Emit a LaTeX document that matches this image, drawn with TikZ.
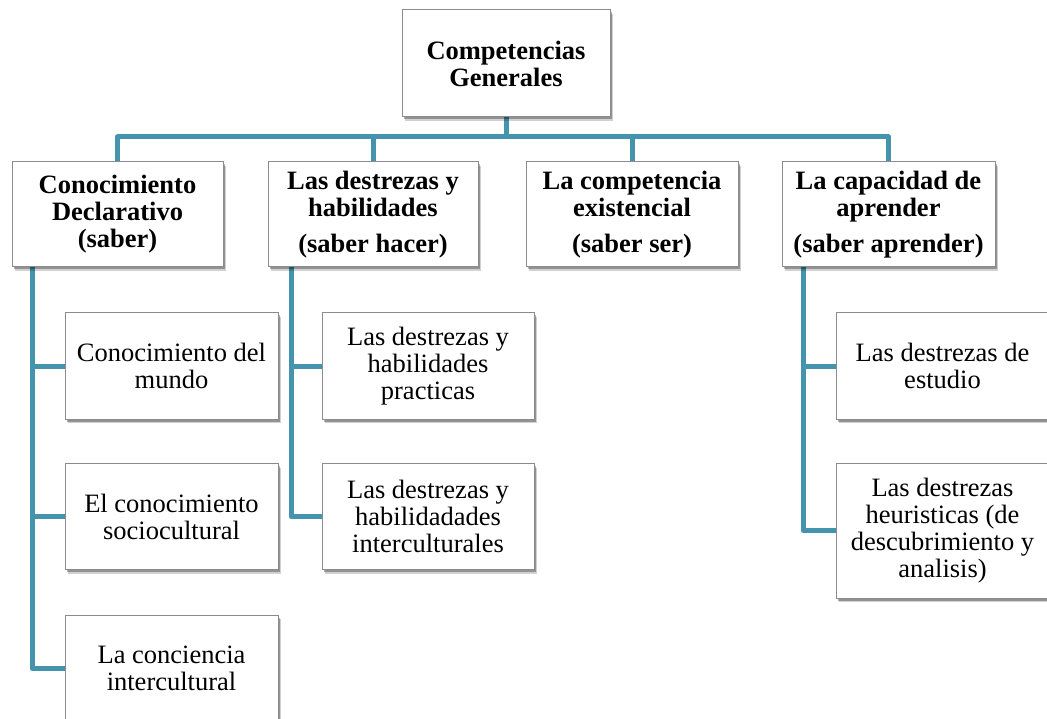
\documentclass[tikz,border=0pt]{standalone}
\usepackage{fontspec}
\setmainfont{Liberation Serif}
\usetikzlibrary{shadows,backgrounds}
\definecolor{conncol}{RGB}{68,148,174}
\definecolor{boxline}{RGB}{140,140,140}
\tikzset{
  box/.style={draw=boxline, line width=1pt, fill=white, align=center,
    inner sep=2pt, font=\fontsize{26.5}{27}\selectfont,
    general shadow={shadow xshift=3pt, shadow yshift=-4pt, opacity=0.18, fill=black},
    general shadow={shadow xshift=1.5pt, shadow yshift=-2.5pt, opacity=0.3, fill=black}},
  hbox/.style={box, font=\fontsize{26.5}{27}\selectfont\bfseries},
  conn/.style={draw=conncol, line width=5pt, line join=round, line cap=butt},
}
\begin{document}
\begin{tikzpicture}[x=1pt,y=-1pt]
\useasboundingbox (0,0) rectangle (1047,719);
\clip (0,0) rectangle (1047,719);
% top
\node[hbox, minimum width=208pt, minimum height=107pt] (top) at (506,63.5) {Competencias\\Generales};
% level 2
\node[hbox, minimum width=211pt, minimum height=105pt] (l1) at (117.5,214.5) {Conocimiento\\Declarativo\\(saber)};
\node[hbox, minimum width=210pt, minimum height=105pt] (l2) at (373,214.5) {Las destrezas y\\habilidades\\[9pt](saber hacer)};
\node[hbox, minimum width=212pt, minimum height=105pt] (l3) at (632,214.5) {La competencia\\existencial\\[9pt](saber ser)};
\node[hbox, minimum width=213pt, minimum height=105pt] (l4) at (888.5,214.5) {La capacidad de\\aprender\\[9pt](saber aprender)};
% level 3 column 1
\node[box, minimum width=213pt, minimum height=106pt] (a1) at (171.5,366) {Conocimiento del\\mundo};
\node[box, minimum width=213pt, minimum height=106pt] (a2) at (171.5,516.5) {El conocimiento\\sociocultural};
\node[box, minimum width=213pt, minimum height=107pt] (a3) at (171.5,668.5) {La conciencia\\intercultural};
% column 2
\node[box, minimum width=212pt, minimum height=106pt] (b1) at (428,366) {Las destrezas y\\habilidades\\practicas};
\node[box, minimum width=212pt, minimum height=106pt] (b2) at (428,516.5) {Las destrezas y\\habilidadades\\interculturales};
% column 4
\node[box, minimum width=213pt, minimum height=106pt] (d1) at (942.5,366) {Las destrezas de\\estudio};
\node[box, minimum width=213pt, minimum height=135pt] (d2) at (942.5,530.5) {Las destrezas\\heuristicas (de\\descubrimiento y\\analisis)};
% connectors
\coordinate (bar) at (506,137);
\coordinate (ca) at (32,0);
\coordinate (cb) at (291,0);
\coordinate (cd) at (803,0);
\begin{scope}[on background layer]
\draw[conn] (top.south) -- (top.south |- bar);
\draw[conn] (l1.north) -- (l1.north |- bar) -- (l4.north |- bar) -- (l4.north);
\draw[conn] (l2.north |- bar) -- (l2.north);
\draw[conn] (l3.north |- bar) -- (l3.north);
\draw[conn] (ca |- l1.south) -- (ca |- a3.west) -- (a3.west);
\draw[conn] (ca |- a1.west) -- (a1.west);
\draw[conn] (ca |- a2.west) -- (a2.west);
\draw[conn] (cb |- l2.south) -- (cb |- b2.west) -- (b2.west);
\draw[conn] (cb |- b1.west) -- (b1.west);
\draw[conn] (cd |- l4.south) -- (cd |- d2.west) -- (d2.west);
\draw[conn] (cd |- d1.west) -- (d1.west);
\end{scope}
\end{tikzpicture}
\end{document}
